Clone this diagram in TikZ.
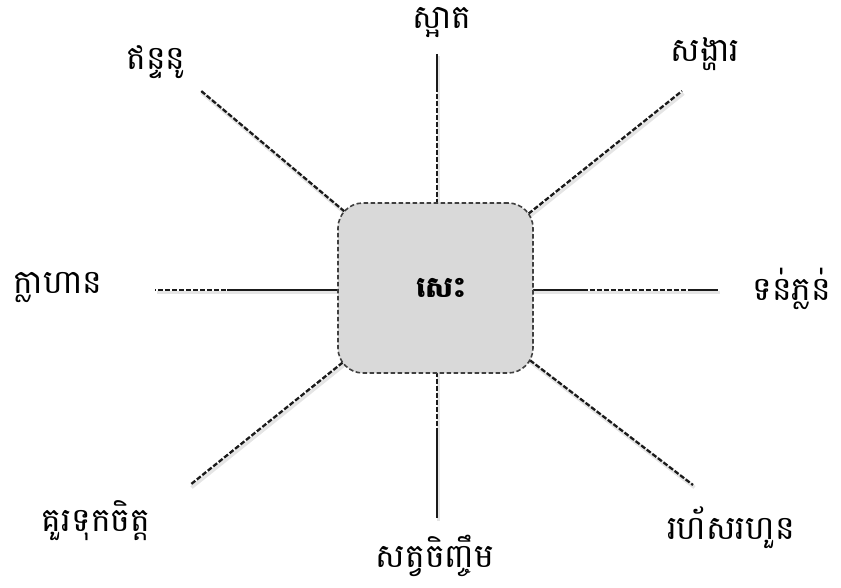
\documentclass[tikz,border=0pt]{standalone}
\usepackage{fontspec}
\newfontfamily\kh[Script=Khmer]{Battambang}
\usetikzlibrary{backgrounds,calc}
\definecolor{hubfill}{HTML}{D9D9D9}
\definecolor{ink}{HTML}{1A1A1A}
\begin{document}
\begin{tikzpicture}[x=1pt,y=-1pt,
  lbl/.style={font=\kh\fontsize{33}{38}\selectfont, inner sep=0pt, text=black},
  spoke/.style={line width=2.3pt, dash pattern=on 5pt off 2pt, draw=ink},
  solidpart/.style={line width=2.3pt, draw=ink},
  shade/.style={line width=3.5pt, draw=black!10},
  hub/.style={rounded corners=25pt, fill=hubfill, draw=black!75, line width=1.6pt,
    dash pattern=on 4.5pt off 2.5pt, minimum width=195pt, minimum height=170pt,
    font=\kh\bfseries\fontsize{29}{34}\selectfont, text=black}]
\useasboundingbox (0,0) rectangle (841,588);
\node[hub] (box) at (435.5,288) {\hspace*{11pt}សេះ};
% outer ends
\coordinate (eT) at (437,54);
\coordinate (eB) at (437,518);
\coordinate (eL) at (155,290);
\coordinate (eR) at (718,290);
\coordinate (eTL) at (200,90);
\coordinate (eTR) at (682,91);
\coordinate (eBL) at (190,485);
\coordinate (eBR) at (693,485);
% solid segment ends
\coordinate (sT) at (437,90);
\coordinate (sB) at (437,430);
\coordinate (sL) at (227,290);
\coordinate (sR1) at (588,290);
\coordinate (sR2) at (693,290);
\begin{scope}[on background layer]
  \foreach \e in {eTL,eTR,eBL,eBR}
    \draw[shade] ([shift={(1.5,2.5)}]box.center) -- ([shift={(1.5,2.5)}]\e);
  \draw[shade] ([shift={(1.5,2.5)}]eT |- box.center) -- ([shift={(1.5,2.5)}]eT);
  \draw[shade] ([shift={(1.5,2.5)}]eB |- box.center) -- ([shift={(1.5,2.5)}]eB);
  \draw[shade] ([shift={(1.5,2.5)}]eL -| box.center) -- ([shift={(1.5,2.5)}]eL);
  \draw[shade] ([shift={(1.5,2.5)}]eR -| box.center) -- ([shift={(1.5,2.5)}]eR);
  \foreach \e in {eTL,eTR,eBL,eBR}
    \draw[spoke] (box.center) -- (\e);
  \draw[spoke] (eT |- box.center) -- (eT);
  \draw[spoke] (eB |- box.center) -- (eB);
  \draw[spoke] (eL -| box.center) -- (eL);
  \draw[spoke] (eR -| box.center) -- (eR);
  \draw[solidpart] (eT) -- (sT);
  \draw[solidpart] (sB) -- (eB);
  \draw[solidpart] (sL) -- (eL -| box.center);
  \draw[solidpart] (eR -| box.center) -- (sR1);
  \draw[solidpart] (sR2) -- (eR);
\end{scope}
% labels
\node[lbl] (lT)  at (442,23)  {ស្អាត};
\node[lbl] (lTL) at (156,62)  {ឥន្ទនូ};
\node[lbl] (lTR) at (705,54)  {សង្ហារ};
\node[lbl] (lL)  at (58,288)  {ក្លាហាន};
\node[lbl] (lR)  at (792,289) {ទន់ភ្លន់};
\node[lbl] (lBL) at (96,521)  {គួរទុកចិត្ត};
\node[lbl] (lB)  at (435,556) {សត្វចិញ្ចឹម};
\node[lbl] (lBR) at (731,528) {រហ័សរហួន};
\end{tikzpicture}
\end{document}
